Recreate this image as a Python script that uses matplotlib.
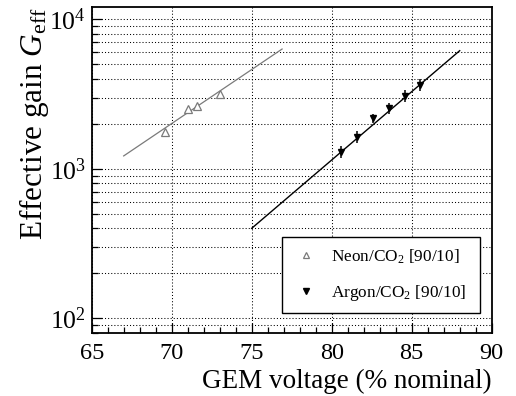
import matplotlib
matplotlib.use('Agg')
import matplotlib.pyplot as plt
from matplotlib.ticker import LogLocator, MultipleLocator, NullFormatter, LogFormatterSciNotation
from matplotlib.lines import Line2D

# Neon/CO2 measurements and exponential fit (straight on log axis)
neon_voltage = [69.6, 71.0, 71.6, 73.0]
neon_gain = [1770, 2510, 2640, 3150]
neon_fit_voltage = [67.0, 76.9]
neon_fit_gain = [1220, 6330]

# Argon/CO2 measurements with uncertainties and fit
argon_voltage = [80.6, 81.6, 82.6, 83.6, 84.6, 85.5]
argon_gain = [1300, 1640, 2180, 2540, 3070, 3630]
argon_err = [115, 140, 140, 225, 275, 330]
argon_fit_voltage = [75.0, 88.0]
argon_fit_gain = [400, 6170]

series_labels = [r'Neon/CO$_2$ [90/10]', r'Argon/CO$_2$ [90/10]']
x_label = 'GEM voltage (% nominal)'
y_label = r'Effective gain $G_{\mathrm{eff}}$'
x_ticks = [65, 70, 75, 80, 85, 90]

plt.rcParams['font.family'] = ['Liberation Serif', 'DejaVu Serif']
plt.rcParams['mathtext.fontset'] = 'custom'
plt.rcParams['mathtext.rm'] = 'Liberation Serif'
plt.rcParams['mathtext.it'] = 'Liberation Serif:italic'
plt.rcParams['mathtext.bf'] = 'Liberation Serif:bold'

NEON_COLOR = '#7a7a7a'

fig = plt.figure(figsize=(5.16, 3.96), dpi=100)
ax = fig.add_axes([0.1777, 0.1583, 0.7752, 0.8240])

ax.set_yscale('log')
ax.set_xlim(65, 90)
ax.set_ylim(79.4, 12090)

# grid: dotted at x majors, y majors and minors
dot = (0, (1, 2))
ax.xaxis.grid(True, which='major', linestyle=dot, color='black', linewidth=0.75)
ax.yaxis.grid(True, which='both', linestyle=dot, color='black', linewidth=0.75)
ax.set_axisbelow(True)

# fits
ax.plot(neon_fit_voltage, neon_fit_gain, color=NEON_COLOR, linewidth=0.9, zorder=3)
ax.plot(argon_fit_voltage, argon_fit_gain, color='black', linewidth=1.0, zorder=3)

# data points
ax.plot(neon_voltage, neon_gain, linestyle='none', marker='^', markersize=5.5,
        markerfacecolor='white', markeredgecolor=NEON_COLOR, markeredgewidth=0.9, zorder=4)
ax.errorbar(argon_voltage, argon_gain, yerr=argon_err, fmt='v', color='black',
            markersize=4, elinewidth=1.1, capsize=0, zorder=4)

# axis ticks
ax.set_xticks(x_ticks)
ax.xaxis.set_minor_locator(MultipleLocator(1))
ax.yaxis.set_major_locator(LogLocator(base=10))
ax.yaxis.set_major_formatter(LogFormatterSciNotation())
ax.yaxis.set_minor_locator(LogLocator(base=10, subs=range(2, 10)))
ax.yaxis.set_minor_formatter(NullFormatter())
ax.tick_params(which='both', direction='in', top=False, right=False, width=0.9)
ax.tick_params(which='major', length=7)
ax.tick_params(which='minor', length=4)
ax.tick_params(axis='x', which='major', pad=7, labelsize=17.5)
ax.tick_params(axis='y', which='major', pad=4, labelsize=18.5)

for s in ax.spines.values():
    s.set_linewidth(1.3)

ax.set_xlabel(x_label, fontsize=19.5, loc='right')
ax.xaxis.set_label_coords(1.0, -0.108)
ax.set_ylabel(y_label, fontsize=22.5, loc='top')
ax.yaxis.set_label_coords(-0.102, 1.0)

handles = [
    Line2D([], [], linestyle='none', marker='^', markersize=4.5, markerfacecolor='white',
           markeredgecolor=NEON_COLOR, markeredgewidth=0.9),
    Line2D([], [], linestyle='none', marker='v', markersize=4, color='black'),
]
leg = ax.legend(handles, series_labels, loc='upper left',
                bbox_to_anchor=(0.4765, 0.0683, 0.4943, 0.2275), mode='expand',
                fontsize=12.4, frameon=True, fancybox=False, framealpha=1,
                edgecolor='black', borderpad=0.6, labelspacing=1.0,
                handlelength=1.55, handletextpad=0.65, borderaxespad=0)
leg.get_frame().set_linewidth(1.0)

fig.savefig('out.png', dpi=100)
